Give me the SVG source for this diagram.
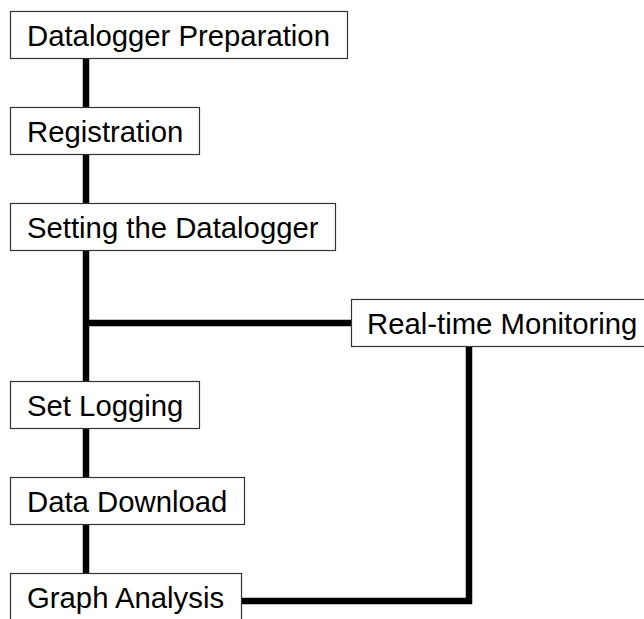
<svg xmlns="http://www.w3.org/2000/svg" width="644" height="619" viewBox="0 0 644 619">
<style>
.box{fill:#fff;stroke:#333;stroke-width:1.2}
.lbl{font-family:"Liberation Sans",Arial,sans-serif;font-size:29.3px;fill:#000}
.con{fill:none;stroke:#000;stroke-width:6.5;stroke-linejoin:miter;stroke-linecap:butt}
</style>
<rect width="644" height="619" fill="#fff"/>
<g id="connectors">
<line class="con" x1="86" y1="59" x2="86" y2="107"/>
<line class="con" x1="86" y1="155" x2="86" y2="203"/>
<line class="con" x1="86" y1="251" x2="86" y2="381"/>
<line class="con" x1="86" y1="323" x2="351" y2="323"/>
<line class="con" x1="86" y1="429" x2="86" y2="477"/>
<line class="con" x1="86" y1="525" x2="86" y2="573"/>
<polyline class="con" points="469,347 469,601 242,601"/>
</g>
<g id="n1"><rect class="box" x="10.5" y="11.5" width="337" height="47"/><text class="lbl" x="27" y="46">Datalogger Preparation</text></g>
<g id="n2"><rect class="box" x="10.5" y="107.5" width="189" height="47"/><text class="lbl" x="27" y="142">Registration</text></g>
<g id="n3"><rect class="box" x="10.5" y="203.5" width="325" height="47"/><text class="lbl" x="27" y="238">Setting the Datalogger</text></g>
<g id="n4"><rect class="box" x="351.5" y="299.5" width="300" height="47"/><text class="lbl" x="367" y="334">Real-time Monitoring</text></g>
<g id="n5"><rect class="box" x="10.5" y="381.5" width="189" height="47"/><text class="lbl" x="27" y="416">Set Logging</text></g>
<g id="n6"><rect class="box" x="10.5" y="477.5" width="234" height="47"/><text class="lbl" x="27" y="512">Data Download</text></g>
<g id="n7"><rect class="box" x="10.5" y="573.5" width="231" height="47"/><text class="lbl" x="27" y="608">Graph Analysis</text></g>
</svg>
